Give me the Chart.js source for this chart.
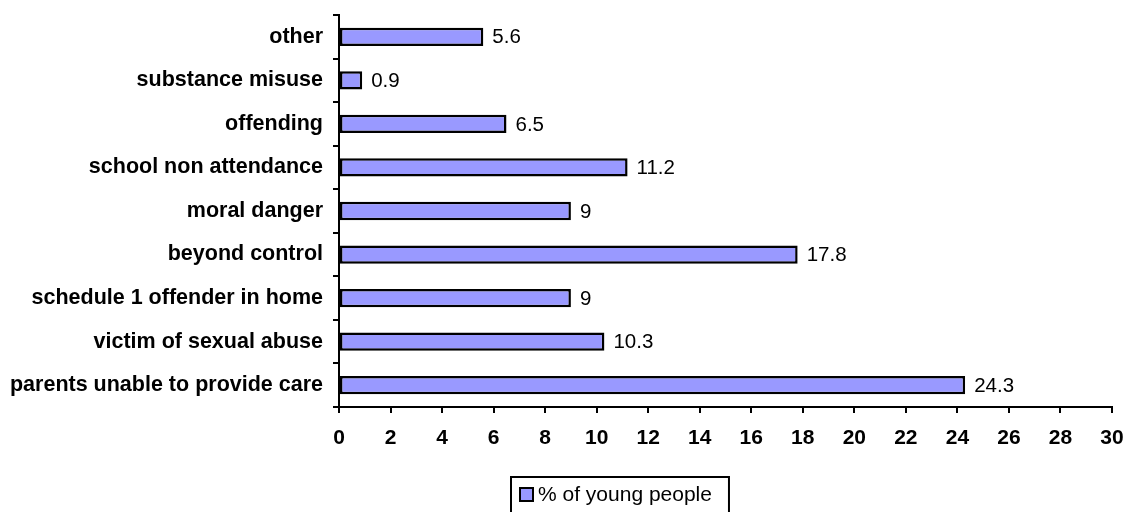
<!DOCTYPE html>
<html>
<head>
<meta charset="utf-8">
<script src="https://cdn.jsdelivr.net/npm/chart.js@4"></script>
<style>
  html, body { margin: 0; padding: 0; background: #fff; }
  #wrap { width: 1128px; height: 512px; }
</style>
</head>
<body>
<div id="wrap"><canvas id="reasonChart" width="1128" height="512"></canvas></div>
<script>
// reasons for being looked after, top row first
const categories = [
    'other',
    'substance misuse',
    'offending',
    'school non attendance',
    'moral danger',
    'beyond control',
    'schedule 1 offender in home',
    'victim of sexual abuse',
    'parents unable to provide care'
];
const percentValues = [5.6, 0.9, 6.5, 11.2, 9, 17.8, 9, 10.3, 24.3];
const seriesLabel = '% of young people';
const xMin = 0;
const xMax = 30;
const xStep = 2;

const FONT = "'Liberation Sans', Arial, sans-serif";

// value written just right of each bar
const valueLabels = {
    id: 'valueLabels',
    afterDatasetsDraw(chart) {
        const ctx = chart.ctx;
        const meta = chart.getDatasetMeta(0);
        ctx.save();
        ctx.font = '20.5px ' + FONT;
        ctx.fillStyle = '#000';
        ctx.textAlign = 'left';
        ctx.textBaseline = 'middle';
        meta.data.forEach((bar, i) => {
            ctx.fillText(String(percentValues[i]), bar.x + 9, bar.y + 1);
        });
        ctx.restore();
    }
};

// boxed legend under the axis
const boxLegend = {
    id: 'boxLegend',
    afterDraw(chart) {
        const ctx = chart.ctx;
        const ds = chart.data.datasets[0];
        ctx.save();
        ctx.font = '21px ' + FONT;
        const textW = ctx.measureText(ds.label).width;
        const left = 511;
        const top = 477;
        const w = 8 + 14 + 5 + textW + 17;
        ctx.lineWidth = 2;
        ctx.strokeStyle = '#000';
        ctx.strokeRect(left, top, w, 60);
        ctx.fillStyle = ds.backgroundColor;
        ctx.fillRect(left + 9, top + 11, 13, 13);
        ctx.strokeRect(left + 9, top + 11, 13, 13);
        ctx.fillStyle = '#000';
        ctx.textBaseline = 'middle';
        ctx.fillText(ds.label, left + 27, top + 18);
        ctx.restore();
    }
};

new Chart(document.getElementById('reasonChart').getContext('2d'), {
    type: 'bar',
    data: {
        labels: categories,
        datasets: [{
            label: seriesLabel,
            data: percentValues,
            backgroundColor: '#9999FF',
            borderColor: '#000000',
            borderWidth: 2.5,
            borderSkipped: false,
            categoryPercentage: 1,
            barPercentage: 0.42
        }]
    },
    options: {
        indexAxis: 'y',
        responsive: false,
        animation: false,
        layout: {
            padding: { top: 15, right: 16, bottom: 0, left: 0 }
        },
        plugins: {
            legend: { display: false },
            tooltip: { enabled: false }
        },
        scales: {
            x: {
                type: 'linear',
                min: xMin,
                max: xMax,
                border: { color: '#000', width: 2 },
                grid: {
                    drawOnChartArea: false,
                    color: '#000',
                    lineWidth: 2,
                    tickLength: 6
                },
                ticks: {
                    stepSize: xStep,
                    color: '#000',
                    padding: 13,
                    font: { family: FONT, size: 21, weight: 'bold' }
                },
                afterFit(scale) {
                    scale.height = 105;
                    scale.paddingLeft = 0;
                    scale.paddingRight = 0;
                }
            },
            y: {
                border: { color: '#000', width: 2 },
                grid: {
                    drawOnChartArea: false,
                    color: '#000',
                    lineWidth: 2,
                    tickLength: 6
                },
                ticks: {
                    color: '#000',
                    padding: 10,
                    autoSkip: false,
                    font: { family: FONT, size: 21.5, weight: 'bold' }
                },
                afterFit(scale) {
                    scale.width = 339;
                    scale.paddingTop = 0;
                    scale.paddingBottom = 0;
                }
            }
        }
    },
    plugins: [valueLabels, boxLegend]
});
</script>
</body>
</html>
